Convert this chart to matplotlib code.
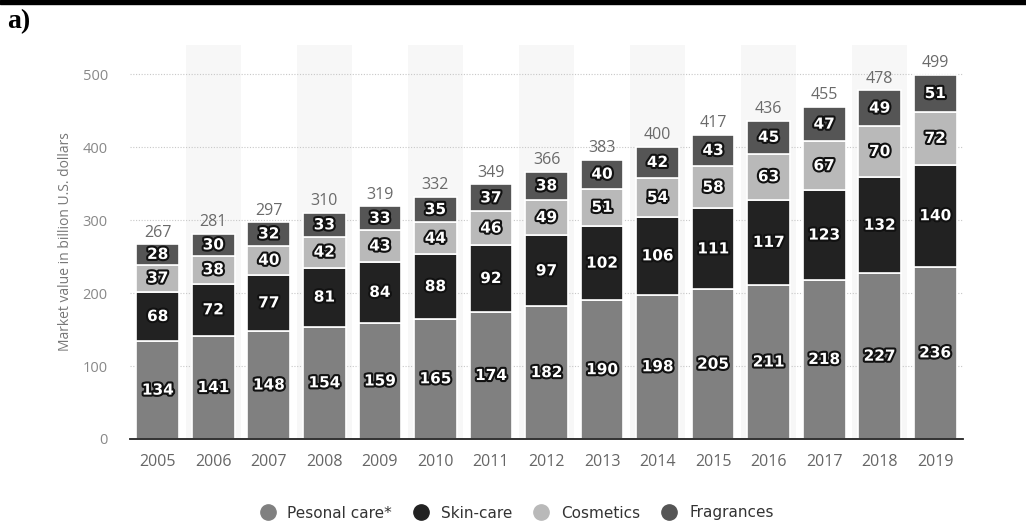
import matplotlib
matplotlib.use("Agg")
import matplotlib.pyplot as plt
import matplotlib.patheffects as pe
from matplotlib.lines import Line2D
from matplotlib.patches import Rectangle
import numpy as np

years = ["2005", "2006", "2007", "2008", "2009", "2010", "2011", "2012",
         "2013", "2014", "2015", "2016", "2017", "2018", "2019"]
personal_care = [134, 141, 148, 154, 159, 165, 174, 182, 190, 198, 205, 211, 218, 227, 236]
skin_care = [68, 72, 77, 81, 84, 88, 92, 97, 102, 106, 111, 117, 123, 132, 140]
cosmetics = [37, 38, 40, 42, 43, 44, 46, 49, 51, 54, 58, 63, 67, 70, 72]
fragrances = [28, 30, 32, 33, 33, 35, 37, 38, 40, 42, 43, 45, 47, 49, 51]
totals = [267, 281, 297, 310, 319, 332, 349, 366, 383, 400, 417, 436, 455, 478, 499]

series_names = ["Pesonal care*", "Skin-care", "Cosmetics", "Fragrances"]
series_colors = ["#808080", "#222222", "#b9b9b9", "#555555"]
yticks = [0, 100, 200, 300, 400, 500]

fig = plt.figure(figsize=(10.26, 5.27), dpi=100)
ax = fig.add_axes([130 / 1026, 88 / 527, 833 / 1026, 394 / 527])

x = np.arange(len(years))
ymax = 540
ax.set_xlim(-0.5, len(years) - 0.5)
ax.set_ylim(0, ymax)

# alternating column shading
for i in x:
    if i % 2 == 1:
        ax.axvspan(i - 0.5, i + 0.5, color="#f7f7f7", zorder=0, lw=0)

# dotted grid
for t in yticks[1:]:
    ax.axhline(t, color="#c8c8c8", lw=0.8, ls=(0, (1, 1.5)), zorder=1)

outline = [pe.withStroke(linewidth=3, foreground="#111111")]
bottom = np.zeros(len(years))
for vals, color in zip([personal_care, skin_care, cosmetics, fragrances], series_colors):
    vals = np.array(vals)
    ax.bar(x, vals, bottom=bottom, width=0.77, color=color, edgecolor="white",
           linewidth=1.2, zorder=2)
    for xi, b, v in zip(x, bottom, vals):
        ax.text(xi, b + v / 2, str(v), ha="center", va="center", color="white",
                fontsize=11, fontweight="bold", family="DejaVu Sans",
                path_effects=outline, zorder=4)
    bottom = bottom + vals

for xi, t in zip(x, totals):
    ax.text(xi, t + 5, str(t), ha="center", va="bottom", color="#6a6a6a",
            fontsize=11.5, family="Open Sans", zorder=4)

ax.set_xticks(x)
ax.set_xticklabels(years, fontsize=11.5, color="#666666", family="Open Sans")
ax.set_yticks(yticks)
ax.set_yticklabels([str(t) for t in yticks], fontsize=10.5, color="#888888",
                   family="Open Sans")
ax.tick_params(axis="x", length=0, pad=11)
ax.tick_params(axis="y", length=0, pad=16)
for side in ["top", "right", "left"]:
    ax.spines[side].set_visible(False)
ax.spines["bottom"].set_color("#222222")
ax.spines["bottom"].set_linewidth(1.3)
ax.spines["bottom"].set_zorder(5)

ax.set_ylabel("Market value in billion U.S. dollars", fontsize=10, color="#777777",
              family="Open Sans", labelpad=7)

handles = [Line2D([], [], marker="o", ls="", markersize=11, color=c) for c in series_colors]
fig.legend(handles, series_names, loc="center", bbox_to_anchor=(0.5, 1 - 513 / 527),
           ncol=4, frameon=False, handletextpad=0.3, columnspacing=0.9,
           prop={"family": "DejaVu Sans", "size": 11})
for txt in fig.legends[0].get_texts():
    txt.set_color("#333333")

fig.patches.append(Rectangle((0, 1 - 3.5 / 527), 1, 3.5 / 527, transform=fig.transFigure,
                             color="black", zorder=10))
fig.text(7 / 1026, 1 - 22 / 527, "a)", fontsize=20, fontweight="bold",
         family="Liberation Serif", va="center", ha="left")

fig.savefig("out.png", dpi=100)
